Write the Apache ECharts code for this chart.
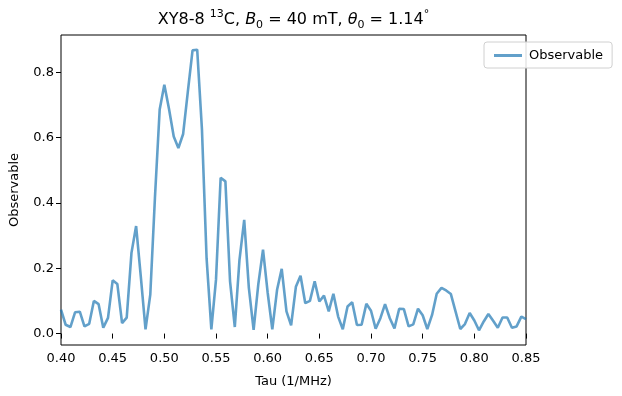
<!DOCTYPE html>
<html>
<head>
<meta charset="utf-8">
<script src="https://cdn.jsdelivr.net/npm/echarts@6/dist/echarts.min.js"></script>
<style>html,body{margin:0;padding:0;background:#fff}#c{width:622px;height:396px}</style>
</head>
<body>
<div id="c"></div>
<script>
const tau = [0.4000,0.4045,0.4091,0.4136,0.4182,0.4227,0.4273,0.4318,0.4364,0.4409,
0.4455,0.4500,0.4545,0.4591,0.4636,0.4682,0.4727,0.4773,0.4818,0.4864,
0.4909,0.4955,0.5000,0.5045,0.5091,0.5136,0.5182,0.5227,0.5273,0.5318,
0.5364,0.5409,0.5455,0.5500,0.5545,0.5591,0.5636,0.5682,0.5727,0.5773,
0.5818,0.5864,0.5909,0.5955,0.6000,0.6045,0.6091,0.6136,0.6182,0.6227,
0.6273,0.6318,0.6364,0.6409,0.6455,0.6500,0.6545,0.6591,0.6636,0.6682,
0.6727,0.6773,0.6818,0.6864,0.6909,0.6955,0.7000,0.7045,0.7091,0.7136,
0.7182,0.7227,0.7273,0.7318,0.7364,0.7409,0.7455,0.7500,0.7545,0.7591,
0.7636,0.7682,0.7727,0.7773,0.7818,0.7864,0.7909,0.7955,0.8000,0.8045,
0.8091,0.8136,0.8182,0.8227,0.8273,0.8318,0.8364,0.8409,0.8455,0.8500];
const observable = [0.073,0.027,0.020,0.065,0.067,0.022,0.030,0.100,0.090,0.018,
0.048,0.163,0.152,0.032,0.049,0.247,0.329,0.172,0.013,0.119,
0.415,0.686,0.762,0.688,0.603,0.568,0.611,0.739,0.867,0.869,
0.625,0.230,0.013,0.165,0.477,0.466,0.160,0.020,0.225,0.348,
0.140,0.011,0.150,0.257,0.125,0.013,0.134,0.198,0.068,0.025,
0.143,0.177,0.093,0.100,0.160,0.098,0.116,0.068,0.122,0.052,
0.013,0.083,0.096,0.026,0.027,0.091,0.070,0.015,0.047,0.090,
0.047,0.016,0.076,0.075,0.022,0.028,0.076,0.056,0.014,0.057,
0.122,0.140,0.132,0.121,0.068,0.014,0.029,0.063,0.040,0.010,
0.037,0.060,0.039,0.018,0.049,0.049,0.018,0.022,0.052,0.044];
const xTicks = [0.40,0.45,0.50,0.55,0.60,0.65,0.70,0.75,0.80,0.85];
const yTicks = [0.0,0.2,0.4,0.6,0.8];

const FONT = 'DejaVu Sans';
const chart = echarts.init(document.getElementById('c'), null, {renderer:'canvas'});
const data = tau.map((t,i)=>[t, observable[i]]);
chart.setOption({
  animation:false,
  grid:{left:61, right:96, top:35, bottom:51, containLabel:false, outerBoundsMode:'none',
    show:true, borderColor:'#000', borderWidth:1, backgroundColor:'transparent'},
  xAxis:{
    type:'value', min:0.40, max:0.85,
    name:'Tau (1/MHz)', nameLocation:'middle', nameGap:30,
    nameTextStyle:{fontFamily:FONT, fontSize:13, color:'#000'},
    axisLine:{show:false},
    splitLine:{show:false},
    axisTick:{show:true, length:5, inside:false, lineStyle:{color:'#000'}, customValues:xTicks},
    axisLabel:{fontFamily:FONT, fontSize:13, color:'#000', margin:7, customValues:xTicks,
      formatter:v=>v.toFixed(2)}
  },
  yAxis:{
    type:'value', min:-0.035, max:0.914,
    name:'Observable', nameLocation:'middle', nameGap:40, nameRotate:90,
    nameTextStyle:{fontFamily:FONT, fontSize:13, color:'#000'},
    axisLine:{show:false},
    splitLine:{show:false},
    axisTick:{show:true, length:5, lineStyle:{color:'#000'}, customValues:yTicks},
    axisLabel:{fontFamily:FONT, fontSize:13, color:'#000', margin:7, customValues:yTicks,
      formatter:v=>v.toFixed(1)}
  },
  legend:{
    left:484, top:42, orient:'vertical',
    itemWidth:28, itemHeight:3, itemGap:4,
    padding:[7,9,6,10],
    borderColor:'#d0d0d0', borderWidth:1, borderRadius:3,
    backgroundColor:'rgba(255,255,255,0.85)',
    textStyle:{fontFamily:FONT, fontSize:13, color:'#000', padding:[0,0,0,2]},
    data:[{name:'Observable', icon:'rect'}]
  },
  series:[{
    name:'Observable', type:'line', data:data, symbol:'none',
    lineStyle:{color:'#1f77b4', width:2.6, opacity:0.7},
    itemStyle:{color:'#1f77b4', opacity:0.7},
    clip:true
  }],
  graphic:[{
    type:'text', x:293.5, y:20,
    style:{
      text:'{n|XY8-8 }{sup|13}{n|C, }{i|B}{sub|0}{n| = 40 mT, }{i|θ}{sub|0}{n| = 1.14}{sup|°}',
      align:'center', verticalAlign:'middle',
      rich:{
        n:{fontFamily:FONT, fontSize:16, fill:'#000', lineHeight:22, verticalAlign:'middle'},
        i:{fontFamily:FONT, fontSize:16, fontStyle:'italic', fill:'#000', lineHeight:22, verticalAlign:'middle'},
        sup:{fontFamily:FONT, fontSize:11, fill:'#000', lineHeight:22, verticalAlign:'top'},
        sub:{fontFamily:FONT, fontSize:11, fill:'#000', lineHeight:22, verticalAlign:'bottom'}
      }
    }
  }]
});
</script>
</body>
</html>
